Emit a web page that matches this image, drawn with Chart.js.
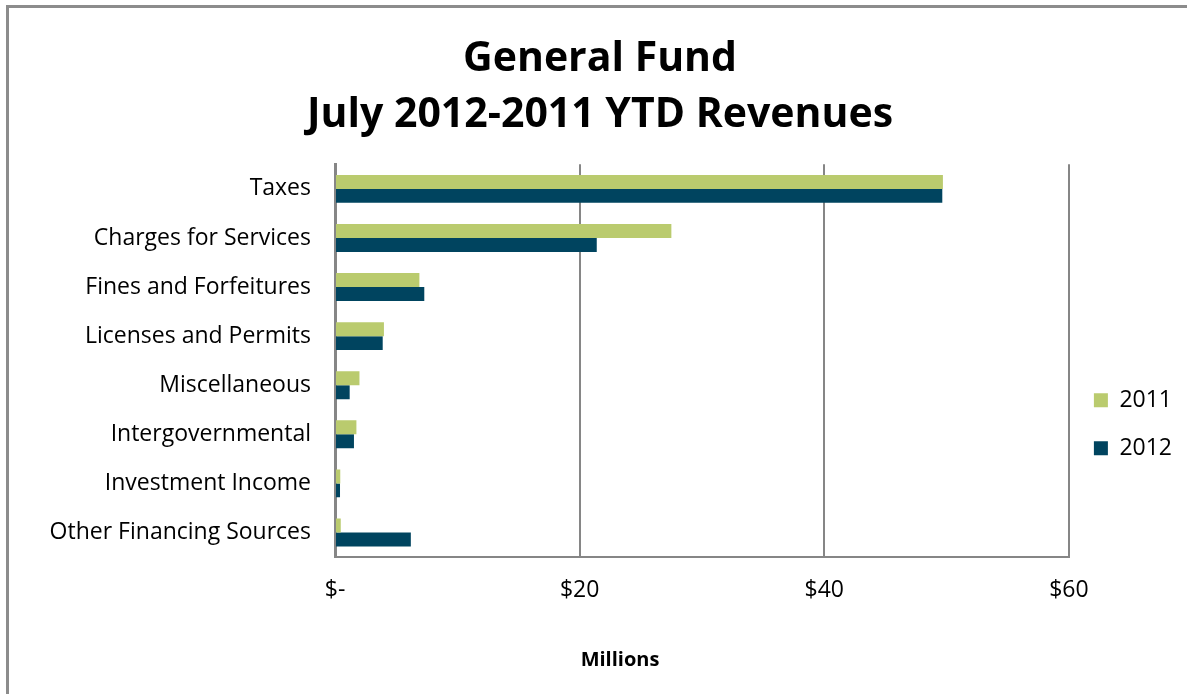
<!DOCTYPE html>
<html>
<head>
<meta charset="utf-8">
<script src="https://cdn.jsdelivr.net/npm/chart.js@4.4.1/dist/chart.umd.min.js"></script>
<style>
    body { margin: 0; background: #fff; }
    #wrap { position: absolute; left: 0; top: 0; width: 1187px; height: 694px; }
    #frame {
        position: absolute; left: 6px; top: 5px; right: -10px; bottom: -10px;
        border-top: 3px solid #8c8c8c; border-left: 3px solid #8c8c8c;
        pointer-events: none;
    }
</style>
</head>
<body>
<div id="wrap">
    <canvas id="revenueChart" width="1187" height="694"></canvas>
    <div id="frame"></div>
</div>
<script>
// Datos del gráfico (millones de dólares)
const categories = ['Taxes', 'Charges for Services', 'Fines and Forfeitures', 'Licenses and Permits',
    'Miscellaneous', 'Intergovernmental', 'Investment Income', 'Other Financing Sources'];
const revenues2011 = [49.7, 27.5, 6.9, 4.0, 2.0, 1.75, 0.43, 0.47];
const revenues2012 = [49.65, 21.4, 7.3, 3.9, 1.2, 1.55, 0.41, 6.2];
const xTicks = [0, 20, 40, 60];

const font = "'Open Sans', 'Liberation Sans', sans-serif";

// Título del eje X, colocado como en el original (no centrado en el área)
const axisCaption = {
    id: 'axisCaption',
    afterDraw(chart) {
        const ctx = chart.ctx;
        ctx.save();
        ctx.font = 'bold 20px ' + font;
        ctx.fillStyle = '#000';
        ctx.textAlign = 'center';
        ctx.textBaseline = 'middle';
        ctx.fillText('Millions', 620, 660);
        ctx.restore();
    }
};

document.addEventListener('DOMContentLoaded', function() {
    const ctx = document.getElementById('revenueChart');

    new Chart(ctx, {
        type: 'bar',
        data: {
            labels: categories,
            datasets: [{
                label: '2011',
                data: revenues2011,
                backgroundColor: '#bacb6e',
                borderWidth: 0
            }, {
                label: '2012',
                data: revenues2012,
                backgroundColor: '#00445f',
                borderWidth: 0
            }]
        },
        options: {
            indexAxis: 'y',
            responsive: false,
            animation: false,
            categoryPercentage: 0.57,
            barPercentage: 1.0,
            layout: {
                padding: { left: 18, right: 5, top: 0, bottom: 0 }
            },
            scales: {
                x: {
                    min: 0,
                    max: 60,
                    afterBuildTicks: function(scale) {
                        scale.ticks = xTicks.map(v => ({ value: v }));
                    },
                    afterFit: function(scale) {
                        scale.height = 137;
                    },
                    grid: {
                        color: '#868686',
                        lineWidth: 2,
                        drawTicks: false
                    },
                    border: { color: '#868686', width: 2 },
                    ticks: {
                        padding: 20,
                        color: '#000',
                        font: { family: font, size: 23 },
                        callback: v => v === 0 ? '$-' : '$' + v
                    }
                },
                y: {
                    afterFit: function(scale) {
                        scale.width = 317;
                    },
                    grid: { display: false, drawTicks: false },
                    border: { color: '#868686', width: 3 },
                    ticks: {
                        padding: 24,
                        color: '#000',
                        font: { family: font, size: 23 }
                    }
                }
            },
            plugins: {
                title: {
                    display: true,
                    text: ['General Fund', 'July 2012-2011 YTD Revenues'],
                    color: '#000',
                    font: { family: font, size: 41, weight: 'bold', lineHeight: 1.37 },
                    padding: { top: 31, bottom: 21 }
                },
                legend: {
                    position: 'right',
                    fullSize: false,
                    align: 'center',
                    // título vacío para bajar la leyenda como en el original
                    title: {
                        display: true,
                        text: '',
                        font: { size: 10 },
                        padding: { top: 115, bottom: 0 }
                    },
                    labels: {
                        boxWidth: 14,
                        boxHeight: 14,
                        padding: 25,
                        color: '#000',
                        font: { family: font, size: 23 }
                    }
                },
                tooltip: { enabled: false }
            }
        },
        plugins: [axisCaption]
    });
});
</script>
</body>
</html>
